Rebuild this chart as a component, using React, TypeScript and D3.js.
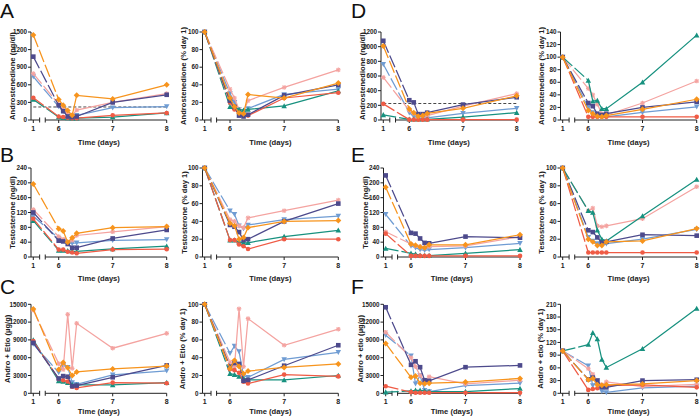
import React from 'react';
import * as d3 from 'd3';

// ---- data ----
const TIMES = [1, 6, 6.083, 6.167, 6.25, 6.333, 7, 8];
const X_TICKS = [1, 6, 7, 8];
// series order: orange, navy, pink, lightblue, red, teal
const COLORS = ['#F7941D', '#4D4A8C', '#F4A3A0', '#6F9CD3', '#EF5B45', '#17917F'];
const SHAPES = ['diamond', 'square', 'star', 'triDown', 'circle', 'triUp'];

const andA = [
  [1450, 350, 250, 160, 80, 420, 360, 600],
  [1080, 250, 150, 60, 50, 60, 300, 430],
  [790, 270, 180, 100, 80, 170, 300, 450],
  [740, 230, 150, 90, 70, 80, 210, 230],
  [380, 60, 50, 40, 30, 30, 80, 120],
  [350, 50, 40, 35, 30, 30, 50, 120],
];
const andApct = [
  [100, 25, 15, 8, 7, 29, 25, 42],
  [100, 22, 15, 5, 4, 6, 28, 40],
  [100, 35, 25, 12, 10, 22, 37, 57],
  [100, 30, 20, 12, 10, 13, 29, 35],
  [100, 20, 12, 8, 6, 5, 25, 31],
  [100, 15, 14, 12, 11, 12, 16, 33],
];
const andD = [
  [1010, 150, 100, 50, 60, 90, 160, 330],
  [1080, 270, 240, 80, 80, 100, 210, 310],
  [580, 130, 90, 60, 50, 60, 190, 360],
  [760, 100, 50, 30, 20, 30, 90, 160],
  [220, 5, 5, 5, 5, 5, 5, 5],
  [70, 10, 10, 10, 10, 10, 40, 100],
];
const andDpct = [
  [100, 15, 10, 6, 5, 7, 17, 33],
  [100, 27, 22, 10, 8, 10, 20, 29],
  [100, 50, 40, 25, 10, 8, 27, 62],
  [100, 20, 12, 5, 4, 5, 12, 21],
  [100, 5, 5, 5, 5, 5, 5, 5],
  [100, 63, 30, 31, 18, 18, 60, 135],
];
const tesB = [
  [197, 76, 70, 40, 52, 64, 79, 82],
  [120, 44, 42, 35, 25, 25, 50, 73],
  [128, 55, 48, 40, 45, 58, 68, 82],
  [110, 50, 45, 38, 37, 38, 45, 47],
  [103, 20, 20, 14, 12, 10, 20, 21],
  [98, 18, 18, 17, 15, 15, 22, 29],
];
const tesBpct = [
  [100, 38, 35, 20, 22, 33, 40, 41],
  [100, 36, 34, 28, 19, 20, 40, 60],
  [100, 42, 40, 35, 33, 44, 52, 64],
  [100, 52, 48, 35, 32, 36, 42, 46],
  [100, 19, 19, 14, 12, 9, 20, 20],
  [100, 19, 19, 17, 16, 16, 23, 30],
];
const tesE = [
  [188, 35, 32, 27, 25, 33, 33, 60],
  [220, 65, 63, 50, 38, 37, 55, 52],
  [68, 35, 30, 28, 25, 28, 30, 55],
  [115, 30, 25, 20, 18, 20, 25, 37],
  [63, 3, 3, 3, 3, 3, 3, 3],
  [23, 10, 8, 5, 4, 4, 10, 20],
];
const tesEpct = [
  [100, 20, 17, 13, 13, 17, 18, 32],
  [100, 30, 28, 22, 16, 17, 25, 24],
  [100, 52, 55, 35, 34, 35, 43, 79],
  [100, 22, 18, 15, 14, 15, 20, 31],
  [100, 5, 5, 5, 5, 5, 5, 5],
  [100, 52, 50, 30, 20, 18, 46, 87],
];
const aeC = [
  [14200, 4000, 5200, 4300, 3000, 3600, 4100, 4600],
  [8500, 2500, 2900, 2800, 1200, 1300, 2700, 4700],
  [14000, 5000, 4000, 13300, 4200, 11800, 7600, 10100],
  [8300, 3500, 4700, 4400, 1800, 1500, 3100, 3800],
  [8800, 2400, 2200, 2000, 1100, 900, 1800, 1700],
  [9000, 2100, 2000, 1800, 1500, 1400, 1400, 1800],
];
const aeCpct = [
  [100, 28, 37, 30, 22, 25, 29, 33],
  [100, 30, 34, 33, 14, 15, 31, 54],
  [100, 35, 30, 95, 30, 84, 54, 72],
  [100, 45, 53, 47, 20, 18, 38, 46],
  [100, 27, 26, 23, 13, 11, 21, 19],
  [100, 22, 21, 19, 17, 15, 15, 20],
];
const aeF = [
  [8400, 2700, 2900, 1700, 1600, 1700, 1900, 2500],
  [14500, 4800, 5400, 4400, 2200, 2100, 4400, 4700],
  [10300, 6000, 4500, 3000, 2000, 2800, 1600, 2200],
  [9800, 6300, 1600, 3000, 500, 300, 1300, 1700],
  [1200, 200, 100, 100, 100, 100, 100, 100],
  [200, 400, 500, 500, 400, 300, 300, 800],
];
const aeFpct = [
  [100, 32, 35, 20, 19, 20, 22, 30],
  [100, 33, 37, 30, 15, 14, 30, 32],
  [100, 58, 45, 30, 20, 27, 16, 21],
  [100, 65, 18, 30, 5, 2, 13, 17],
  [100, 8, 10, 12, 15, 18, 20, 14],
  [100, 115, 143, 128, 80, 61, 105, 200],
];
const REF_A = 222;
const REF_D = 225;

const FONT = '"Liberation Sans", Arial, Helvetica, sans-serif';
const DRAW_ORDER = [3, 2, 5, 4, 1, 0];

type Cfg = {
  data: number[][];
  yMax: number;
  yStep: number;
  title: string;
  ax: number; x1: number; x6: number; x8: number;
  yTop: number; y0: number;
  titleX: number;
  labelY: number;
  letter?: string; letterX?: number; letterY?: number;
  ref?: number;
};

function Marker({ shape, x, y, c }: { shape: string; x: number; y: number; c: string }) {
  const s = 2.3;
  if (shape === 'circle') return <circle cx={x} cy={y} r={s} fill={c} />;
  if (shape === 'square') return <rect x={x - s} y={y - s} width={2 * s} height={2 * s} fill={c} />;
  if (shape === 'diamond')
    return <path d={`M${x},${y - s * 1.3}L${x + s * 1.3},${y}L${x},${y + s * 1.3}L${x - s * 1.3},${y}Z`} fill={c} />;
  if (shape === 'triUp')
    return <path d={`M${x},${y - s * 1.2}L${x + s * 1.2},${y + s}L${x - s * 1.2},${y + s}Z`} fill={c} />;
  if (shape === 'triDown')
    return <path d={`M${x},${y + s * 1.2}L${x + s * 1.2},${y - s}L${x - s * 1.2},${y - s}Z`} fill={c} />;
  return (
    <g stroke={c} strokeWidth={1.1}>
      <line x1={x - s} y1={y} x2={x + s} y2={y} />
      <line x1={x} y1={y - s} x2={x} y2={y + s} />
      <line x1={x - s * 0.75} y1={y - s * 0.75} x2={x + s * 0.75} y2={y + s * 0.75} />
      <line x1={x - s * 0.75} y1={y + s * 0.75} x2={x + s * 0.75} y2={y - s * 0.75} />
    </g>
  );
}

function Panel({ cfg }: { cfg: Cfg }) {
  const xs = d3.scaleLinear().domain([1, 6, 8]).range([cfg.x1, cfg.x6, cfg.x8]);
  const ys = d3.scaleLinear().domain([0, cfg.yMax]).range([cfg.y0, cfg.yTop]);
  const yTicks = d3.range(0, cfg.yMax + 0.001, cfg.yStep);
  const segEnd = cfg.x1 + (cfg.x6 - cfg.x1) * 0.25;
  const seg2 = cfg.x1 + (cfg.x6 - cfg.x1) * 0.47;
  const line = d3
    .line<[number, number]>()
    .defined((d) => d[1] != null)
    .x((d) => xs(d[0]))
    .y((d) => ys(d[1]));
  return (
    <g>
      {cfg.letter && (
        <text x={cfg.letterX} y={cfg.letterY} fontSize={21} fontFamily={FONT} fill="#111">
          {cfg.letter}
        </text>
      )}
      <line x1={cfg.ax} y1={cfg.y0} x2={cfg.ax} y2={cfg.yTop} stroke="#222" strokeWidth={1} />
      {yTicks.map((t) => (
        <g key={t}>
          <line x1={cfg.ax - 3} x2={cfg.ax} y1={ys(t)} y2={ys(t)} stroke="#222" strokeWidth={1} />
          <text x={cfg.ax - 4} y={ys(t) + 2.2} fontSize={6.3} fontWeight="bold" textAnchor="end" fontFamily={FONT} fill="#222">
            {String(t)}
          </text>
        </g>
      ))}
      <text
        transform={`translate(${cfg.titleX},${(cfg.y0 + cfg.yTop) / 2}) rotate(-90)`}
        fontSize={7.6}
        fontWeight="bold"
        textAnchor="middle"
        fontFamily={FONT}
        fill="#222"
        dy="0.35em"
      >
        {cfg.title}
      </text>
      <line x1={cfg.ax} x2={segEnd} y1={cfg.y0} y2={cfg.y0} stroke="#222" strokeWidth={1} />
      <line x1={segEnd} x2={segEnd} y1={cfg.y0 - 2.5} y2={cfg.y0 + 2.5} stroke="#222" strokeWidth={1} />
      <line x1={seg2} x2={cfg.x8} y1={cfg.y0} y2={cfg.y0} stroke="#222" strokeWidth={1} />
      <line x1={seg2} x2={seg2} y1={cfg.y0 - 2.5} y2={cfg.y0 + 2.5} stroke="#222" strokeWidth={1} />
      {X_TICKS.map((t) => (
        <g key={t}>
          <line x1={xs(t)} x2={xs(t)} y1={cfg.y0} y2={cfg.y0 + 3} stroke="#222" strokeWidth={1} />
          <text x={xs(t)} y={cfg.y0 + 11} fontSize={7} fontWeight="bold" textAnchor="middle" fontFamily={FONT} fill="#222">
            {t}
          </text>
        </g>
      ))}
      <text x={(cfg.ax + cfg.x8) / 2} y={cfg.labelY} fontSize={7.6} fontWeight="bold" textAnchor="middle" fontFamily={FONT} fill="#222">
        Time (days)
      </text>
      {cfg.ref != null && (
        <line x1={cfg.x1} x2={cfg.x8} y1={ys(cfg.ref)} y2={ys(cfg.ref)} stroke="#333" strokeWidth={0.9} strokeDasharray="3,2" />
      )}
      {DRAW_ORDER.map((si) => {
        const vals = cfg.data[si];
        const pts: [number, number][] = TIMES.map((t, i) => [t, vals[i]]);
        const c = COLORS[si];
        return (
          <g key={si}>
            <path d={line(pts.slice(0, 2)) || ''} fill="none" stroke={c} strokeWidth={1.25} strokeDasharray="13,3" />
            <path d={line(pts.slice(1)) || ''} fill="none" stroke={c} strokeWidth={1.25} />
            {pts.map((p, i) =>
              p[1] == null ? null : <Marker key={i} shape={SHAPES[si]} x={xs(p[0])} y={ys(p[1])} c={c} />
            )}
          </g>
        );
      })}
    </g>
  );
}

const L1 = { ax: 31, x1: 33.3, x6: 58.7, x8: 166.7 };
const L2 = { ax: 202.5, x1: 204.7, x6: 230, x8: 338.3 };
const R1 = { ax: 381, x1: 383.3, x6: 409.3, x8: 516.7 };
const R1b = { ax: 383.5, x1: 385.7, x6: 411, x8: 520 };
const R2 = { ax: 560.5, x1: 562.7, x6: 588.3, x8: 696.7 };
const ROW1 = { yTop: 32, y0: 120, labelY: 145 };
const ROW2 = { yTop: 168, y0: 257, labelY: 281 };
const ROW3 = { yTop: 304.3, y0: 393.3, labelY: 414 };

const PANELS: Cfg[] = [
  { ...L1, ...ROW1, data: andA, yMax: 1500, yStep: 300, title: 'Androstenedione (ng/dl)', titleX: 12, letter: 'A', letterX: 0, letterY: 18, ref: REF_A },
  { ...L2, ...ROW1, data: andApct, yMax: 100, yStep: 20, title: 'Androstenedione (% day 1)', titleX: 183.5 },
  { ...R1, ...ROW1, data: andD, yMax: 1200, yStep: 200, title: 'Androstenedione (ng/dl)', titleX: 362.5, letter: 'D', letterX: 351, letterY: 18, ref: REF_D },
  { ...R2, ...ROW1, data: andDpct, yMax: 140, yStep: 20, title: 'Androstenedione (% day 1)', titleX: 541 },
  { ...L1, ...ROW2, data: tesB, yMax: 240, yStep: 40, title: 'Testosterone (ng/dl)', titleX: 12.5, letter: 'B', letterX: 0, letterY: 162 },
  { ...L2, ...ROW2, data: tesBpct, yMax: 100, yStep: 20, title: 'Testosterone (% day 1)', titleX: 184 },
  { ...R1b, ...ROW2, data: tesE, yMax: 240, yStep: 40, title: 'Testosterone (ng/dl)', titleX: 365, letter: 'E', letterX: 351, letterY: 162 },
  { ...R2, ...ROW2, data: tesEpct, yMax: 100, yStep: 20, title: 'Testosterone (% day 1)', titleX: 541 },
  { ...L1, ...ROW3, data: aeC, yMax: 15000, yStep: 3000, title: 'Andro + Etio (µg/g)', titleX: 7, letter: 'C', letterX: 0, letterY: 294 },
  { ...L2, ...ROW3, data: aeCpct, yMax: 100, yStep: 20, title: 'Andro + Etio (% day 1)', titleX: 182.5 },
  { ...R1b, ...ROW3, data: aeF, yMax: 15000, yStep: 3000, title: 'Andro + etio (µg/g)', titleX: 360, letter: 'F', letterX: 351, letterY: 294 },
  { ...R2, ...ROW3, data: aeFpct, yMax: 210, yStep: 30, title: 'Andro + etio (% day 1)', titleX: 540 },
];

export default function App() {
  return (
    <svg width={700} height={416} style={{ position: 'absolute', left: 0, top: 0, background: '#fff' }}>
      <rect width={700} height={416} fill="#fff" />
      {PANELS.map((p, i) => (
        <Panel key={i} cfg={p} />
      ))}
    </svg>
  );
}
